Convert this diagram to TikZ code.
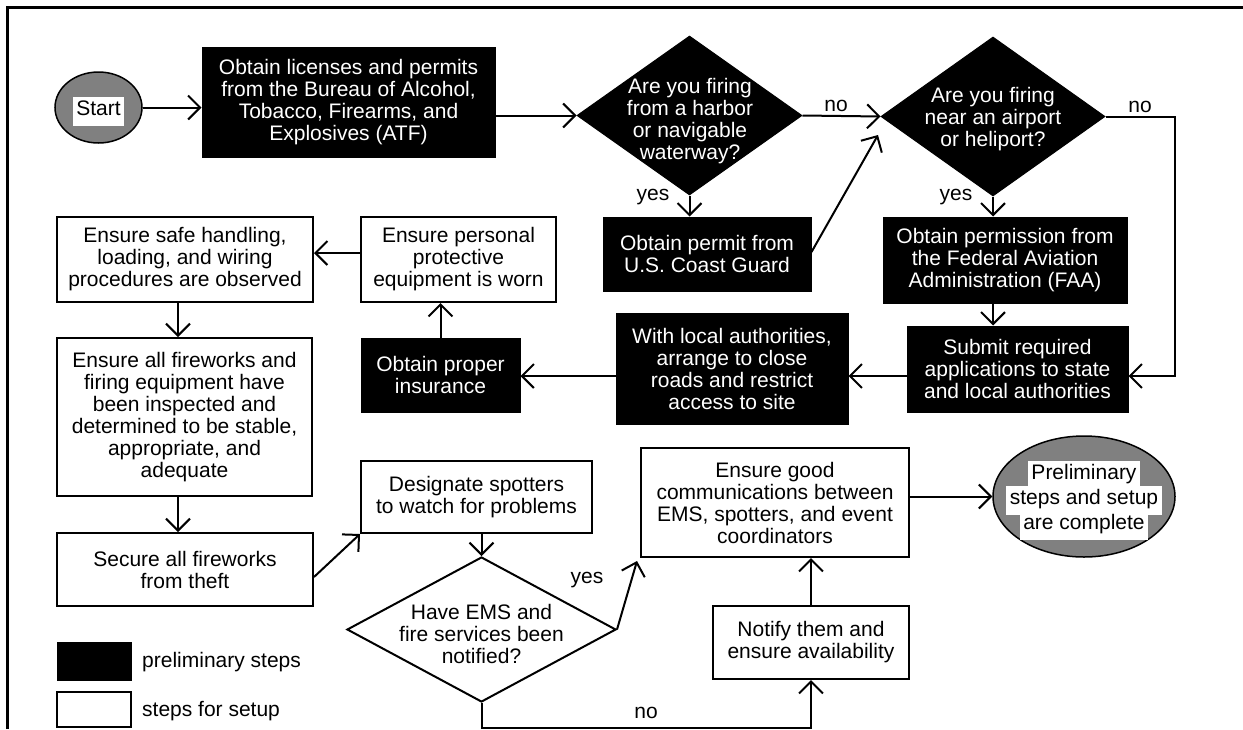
\documentclass[tikz,border=0pt]{standalone}
\usepackage{fontspec}
\setmainfont{Liberation Sans}
\usetikzlibrary{arrows.meta,shapes.geometric,calc}
\newcommand\nodefont{\fontsize{21}{22}\selectfont}
\newcommand\hl[1]{{\setlength{\fboxsep}{3.5pt}\colorbox{white}{\strut #1}}}
\tikzset{
 pbox/.style={rectangle, draw=black, fill=black, text=white, line width=1pt, inner sep=0pt, align=center, font=\nodefont},
 sbox/.style={rectangle, draw=black, fill=white, line width=2pt, inner sep=0pt, align=center, font=\nodefont},
 pdia/.style={diamond, draw=black, fill=black, inner sep=0pt, line width=1pt},
 sdia/.style={diamond, draw=black, fill=white, inner sep=0pt, line width=2pt},
 term/.style={ellipse, draw=black, fill=black!50, line width=1.5pt, inner sep=0pt},
 halo/.style={inner sep=0pt, align=center, font=\fontsize{21}{22}\selectfont},
 dtext/.style={align=center, font=\nodefont, inner sep=0pt},
 lbl/.style={font=\nodefont, inner sep=0pt},
 conn/.style={line width=2pt, -{Straight Barb[length=12pt,width=24pt,line width=2pt]}},
}
\begin{document}
\begin{tikzpicture}[x=1pt,y=-1pt]
\useasboundingbox (0,0) rectangle (1243,729);
\fill[white] (0,0) rectangle (1243,729);
\draw[line width=3pt] (7,729) -- (7,7) -- (1243,7);

% terminals
\node[term, minimum width=87pt, minimum height=71pt] (start) at (98.5,107.5) {};
\node[halo] (startt) at ($(start.center)+(0,3.5)$) {\hl{Start}};
\node[term, minimum width=182pt, minimum height=121pt] (end) at (1084,496.5) {};
\node[halo] (endt) at ($(end.center)+(0,3.5)$) {\hl{Preliminary}\\[-5pt]\hl{steps and setup}\\[-5pt]\hl{are complete}};

% preliminary steps
\node[pbox, minimum width=293pt, minimum height=110pt] (b1) at (348.5,102) {Obtain licenses and permits\\from the Bureau of Alcohol,\\Tobacco, Firearms, and\\Explosives (ATF)};
\node[pdia, minimum width=225pt, minimum height=159pt] (d1) at (689.5,115.5) {};
\node[dtext, text=white] (d1t) at (690,121) {Are you firing\\from a harbor\\or navigable\\waterway?};
\node[pdia, minimum width=224pt, minimum height=159pt] (d2) at (993,116.5) {};
\node[dtext, text=white] (d2t) at (993,119) {Are you firing\\near an airport\\or heliport?};
\node[pbox, minimum width=208pt, minimum height=74pt] (cg) at (707,254) {Obtain permit from\\U.S. Coast Guard};
\node[pbox, minimum width=244pt, minimum height=86pt] (faa) at (1005,260) {Obtain permission from\\the Federal Aviation\\Administration (FAA)};
\node[pbox, minimum width=221pt, minimum height=86pt] (sub) at (1017.5,369) {Submit required\\applications to state\\and local authorities};
\node[pbox, minimum width=232pt, minimum height=111pt] (wl) at (732,368.5) {With local authorities,\\arrange to close\\roads and restrict\\access to site};
\node[pbox, minimum width=159pt, minimum height=74pt] (ins) at (440.5,375) {Obtain proper\\insurance};

% setup steps
\node[sbox, minimum width=195pt, minimum height=85pt] (pers) at (458.5,259.5) {Ensure personal\\protective\\equipment is worn};
\node[sbox, minimum width=256pt, minimum height=85pt] (safe) at (185,259.5) {Ensure safe handling,\\loading, and wiring\\procedures are observed};
\node[sbox, minimum width=255pt, minimum height=158pt] (all) at (184.5,417) {Ensure all fireworks and\\firing equipment have\\been inspected and\\determined to be stable,\\appropriate, and\\adequate};
\node[sbox, minimum width=256pt, minimum height=73pt] (sec) at (185,569.5) {Secure all fireworks\\from theft};
\node[sbox, minimum width=231pt, minimum height=72pt] (des) at (476.5,497) {Designate spotters\\to watch for problems};
\node[sdia, minimum width=269pt, minimum height=145pt] (d3) at (481.5,629.5) {};
\node[dtext] (d3t) at (481.5,634) {Have EMS and\\fire services been\\notified?};
\node[sbox, minimum width=268pt, minimum height=109pt] (ems) at (775,502.5) {Ensure good\\communications between\\EMS, spotters, and event\\coordinators};
\node[sbox, minimum width=196pt, minimum height=73pt] (nt) at (811,642.5) {Notify them and\\ensure availability};

% legend
\node[pbox, minimum width=74pt, minimum height=38pt] (lgp) at (94,661) {};
\node[lbl, anchor=west] (lgpt) at (142,662) {preliminary steps};
\node[sbox, minimum width=74pt, minimum height=35pt] (lgs) at (94,709.5) {};
\node[lbl, anchor=west] (lgst) at (142,711) {steps for setup};

% labels
\node[lbl] (no1) at (836,106) {no};
\node[lbl] (yes1) at (653,197) {yes};
\node[lbl] (no2) at (1140,107) {no};
\node[lbl] (yes2) at (956,197) {yes};
\node[lbl] (yes3) at (587,580) {yes};
\node[lbl] (no3) at (646,713) {no};

% connectors
\coordinate (cgtip) at (878,135);
\coordinate (nr) at (1175,376);
\draw[conn] (start.east) -- (start.east -| b1.west);
\draw[conn] (d1.west -| b1.east) -- (d1.west);
\draw[conn] (d1.east) -- (d2.west);
\draw[conn] (d1.south) -- (d1.south |- cg.north);
\draw[conn] ($(cg.east)+(0,-2)$) -- (cgtip);
\draw[conn] (d2.east) -| (nr) -- (nr -| sub.east);
\draw[conn] (d2.south) -- (d2.south |- faa.north);
\draw[conn] (d2.south |- faa.south) -- (d2.south |- sub.north);
\draw[conn] (nr -| sub.west) -- (nr -| wl.east);
\draw[conn] (nr -| wl.west) -- (nr -| ins.east);
\draw[conn] (ins.north) -- (ins.north |- pers.south);
\draw[conn] ($(pers.west)+(0,-6.5)$) -- ($(safe.east)+(0,-6.5)$);
\draw[conn] ($(safe.south)+(-7,0)$) -- ($(all.north)+(-6.5,0)$);
\draw[conn] ($(all.south)+(-6.5,0)$) -- ($(sec.north)+(-7,0)$);
\draw[conn] ($(sec.east)+(0,7.5)$) -- (des.south west);
\draw[conn] (d3.north |- des.south) -- (d3.north);
\draw[conn] (d3.east) -- ($(ems.south west)+(-3,3)$);
\draw[conn] (d3.south) -- ++(0,25) -| (nt.south);
\draw[conn] (nt.north) -- (nt.north |- ems.south);
\draw[conn] (ems.east |- end.west) -- (end.west);
\end{tikzpicture}
\end{document}
